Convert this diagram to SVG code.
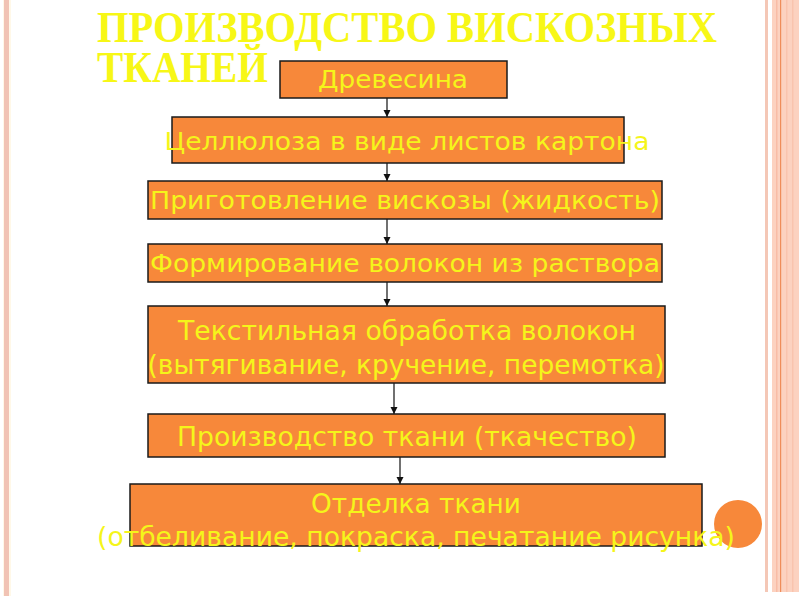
<svg xmlns="http://www.w3.org/2000/svg" width="800" height="600" viewBox="0 0 800 600">
<style>
.box{fill:#f7883a;stroke:#1a1a1a;stroke-width:1.5}
.t{fill:#f5f51a;font-family:"DejaVu Sans","Noto Sans",sans-serif;font-size:24px;text-anchor:middle}
.tb{font-size:26px}
.title{fill:#f7f716;font-family:"Liberation Serif",serif;font-weight:bold;font-size:44px}
.c{stroke:#111;stroke-width:1.2;fill:none;marker-end:url(#ah)}
</style>
<defs>
<marker id="ah" markerWidth="8" markerHeight="8" refX="7" refY="4" orient="auto" markerUnits="userSpaceOnUse">
<path d="M0,0.5 L7,4 L0,7.5 Z" fill="#111"/>
</marker>
</defs>
<rect width="800" height="600" fill="#ffffff"/>
<g id="frame">
<rect x="3" y="0" width="8" height="596" fill="#fff8e8"/>
<rect x="4" y="0" width="5" height="596" fill="#f1c3b4"/>
<rect x="765" y="0" width="3" height="592" fill="#f4c7b6"/>
<rect x="772" y="0" width="27" height="592" fill="#fcd2c0"/>
<rect x="776" y="0" width="1.5" height="592" fill="#f8bca6"/>
<rect x="780" y="0" width="1.2" height="592" fill="#ef8d5a"/>
<rect x="786" y="0" width="1.5" height="592" fill="#f9c4ae"/>
<rect x="792" y="0" width="1.5" height="592" fill="#f9c4ae"/>
<ellipse cx="738" cy="524" rx="24" ry="24" fill="#f7883a"/>
</g>
<g id="title">
<text class="title"><tspan x="97" y="42" textLength="620" lengthAdjust="spacingAndGlyphs">ПРОИЗВОДСТВО ВИСКОЗНЫХ</tspan><tspan x="97" y="82" textLength="171" lengthAdjust="spacingAndGlyphs">ТКАНЕЙ</tspan></text>
</g>
<g id="connectors">
<line class="c" x1="387" y1="98" x2="387" y2="117"/>
<line class="c" x1="387" y1="163" x2="387" y2="181"/>
<line class="c" x1="387" y1="219" x2="387" y2="244"/>
<line class="c" x1="387" y1="282" x2="387" y2="306"/>
<line class="c" x1="394" y1="383" x2="394" y2="414"/>
<line class="c" x1="400" y1="457" x2="400" y2="484"/>
</g>
<g id="n1">
<rect class="box" x="280" y="61" width="227" height="37"/>
<text class="t" x="393" y="88" textLength="150" lengthAdjust="spacingAndGlyphs">Древесина</text>
</g>
<g id="n2">
<rect class="box" x="172" y="117" width="452" height="46"/>
<text class="t" x="407" y="150" textLength="485" lengthAdjust="spacingAndGlyphs">Целлюлоза в виде листов картона</text>
</g>
<g id="n3">
<rect class="box" x="148" y="181" width="514" height="38"/>
<text class="t" x="405" y="209" textLength="510" lengthAdjust="spacingAndGlyphs">Приготовление вискозы (жидкость)</text>
</g>
<g id="n4">
<rect class="box" x="148" y="244" width="514" height="38"/>
<text class="t" x="405" y="272" textLength="510" lengthAdjust="spacingAndGlyphs">Формирование волокон из раствора</text>
</g>
<g id="n5">
<rect class="box" x="148" y="306" width="517" height="77"/>
<text class="t tb" x="407" y="340" textLength="458" lengthAdjust="spacingAndGlyphs">Текстильная обработка волокон</text>
<text class="t tb" x="406" y="374" textLength="517" lengthAdjust="spacingAndGlyphs">(вытягивание, кручение, перемотка)</text>
</g>
<g id="n6">
<rect class="box" x="148" y="414" width="517" height="43"/>
<text class="t tb" x="407" y="446" textLength="460" lengthAdjust="spacingAndGlyphs">Производство ткани (ткачество)</text>
</g>
<g id="n7">
<rect class="box" x="130" y="484" width="572" height="62"/>
<text class="t tb" x="416" y="513" textLength="210" lengthAdjust="spacingAndGlyphs">Отделка ткани</text>
<text class="t tb" x="416" y="546" textLength="638" lengthAdjust="spacingAndGlyphs">(отбеливание, покраска, печатание рисунка)</text>
</g>
</svg>
